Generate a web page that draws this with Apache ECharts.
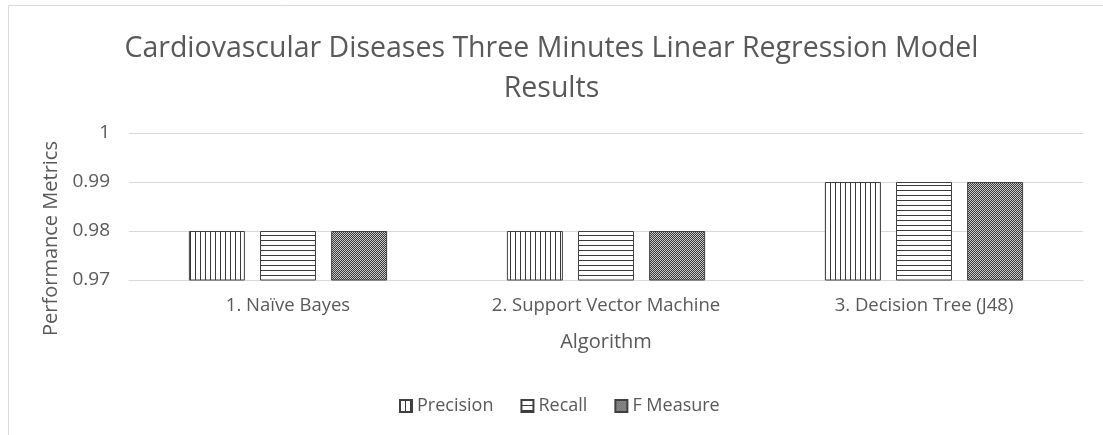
<!DOCTYPE html>
<html>
<head>
<meta charset="utf-8">
<script src="https://cdn.jsdelivr.net/npm/echarts@6/dist/echarts.min.js"></script>
<style>
	html, body { margin: 0; padding: 0; background: #fff; }
	#chart { width: 1103px; height: 435px; }
</style>
</head>
<body>
<div id="chart"></div>
<script>
const categories = ['1. Naïve Bayes', '2. Support Vector Machine', '3. Decision Tree (J48)']
const seriesNames = ['Precision', 'Recall', 'F Measure']
const precision = [0.98, 0.98, 0.99]
const recall = [0.98, 0.98, 0.99]
const fMeasure = [0.98, 0.98, 0.99]

// small tile canvases for the Excel-like fill patterns
const makeTile = (w, h, draw) => {
	const c = document.createElement('canvas')
	c.width = w
	c.height = h
	const ctx = c.getContext('2d')
	draw(ctx)
	return { image: c, repeat: 'repeat' }
}
const vertLines = makeTile(5, 5, ctx => {
	ctx.fillStyle = '#fff'
	ctx.fillRect(0, 0, 5, 5)
	ctx.fillStyle = '#3a3a3a'
	ctx.fillRect(0, 0, 1, 5)
})
const horzLines = makeTile(5, 5, ctx => {
	ctx.fillStyle = '#fff'
	ctx.fillRect(0, 0, 5, 5)
	ctx.fillStyle = '#3a3a3a'
	ctx.fillRect(0, 0, 5, 1)
})
const checker = makeTile(2, 2, ctx => {
	ctx.fillStyle = '#3a3a3a'
	ctx.fillRect(0, 0, 2, 2)
	ctx.fillStyle = '#c8c8c8'
	ctx.fillRect(0, 0, 1, 1)
	ctx.fillRect(1, 1, 1, 1)
})

const font = '"Open Sans", sans-serif'
const chart = echarts.init(document.getElementById('chart'))

const barSeries = (name, data, fill) => ({
	name,
	type: 'bar',
	data,
	barWidth: 56,
	barGap: '27%',
	itemStyle: { color: fill, borderColor: '#404040', borderWidth: 1 },
})

const option = {
	animation: false,
	title: {
		text: 'Cardiovascular Diseases Three Minutes Linear Regression Model\nResults',
		left: 'center',
		top: 24,
		textStyle: { fontFamily: font, fontSize: 28.5, fontWeight: 'normal', color: '#595959', lineHeight: 40 },
	},
	graphic: [
		{
			type: 'rect',
			shape: { x: 8.5, y: 5.5, width: 1200, height: 500 },
			style: { fill: 'none', stroke: '#d9d9d9', lineWidth: 1 },
			silent: true,
		},
	],
	legend: {
		data: seriesNames,
		top: 392,
		left: 394,
		icon: 'rect',
		itemWidth: 12,
		itemHeight: 12,
		itemGap: 27,
		textStyle: { fontFamily: font, fontSize: 18, color: '#595959' },
	},
	grid: { left: 129, right: 20, top: 133, bottom: 155 },
	xAxis: {
		type: 'category',
		data: categories,
		name: 'Algorithm',
		nameLocation: 'middle',
		nameGap: 52,
		nameTextStyle: { fontFamily: font, fontSize: 20, color: '#595959' },
		axisLine: { lineStyle: { color: '#d9d9d9' } },
		axisTick: { show: false },
		axisLabel: { fontFamily: font, fontSize: 18.5, color: '#595959', margin: 16 },
	},
	yAxis: {
		type: 'value',
		min: 0.97,
		max: 1,
		interval: 0.01,
		name: 'Performance Metrics',
		nameLocation: 'middle',
		nameGap: 67,
		nameTextStyle: { fontFamily: font, fontSize: 20, color: '#595959', padding: [0, 64, 0, 0] },
		axisLine: { show: false },
		axisTick: { show: false },
		splitLine: { lineStyle: { color: '#d9d9d9' } },
		axisLabel: {
			fontFamily: font,
			fontSize: 19,
			color: '#595959',
			margin: 19,
			formatter: v => String(Math.round(v * 100) / 100),
		},
	},
	series: [
		barSeries('Precision', precision, vertLines),
		barSeries('Recall', recall, horzLines),
		barSeries('F Measure', fMeasure, checker),
	],
}
chart.setOption(option)
</script>
</body>
</html>
